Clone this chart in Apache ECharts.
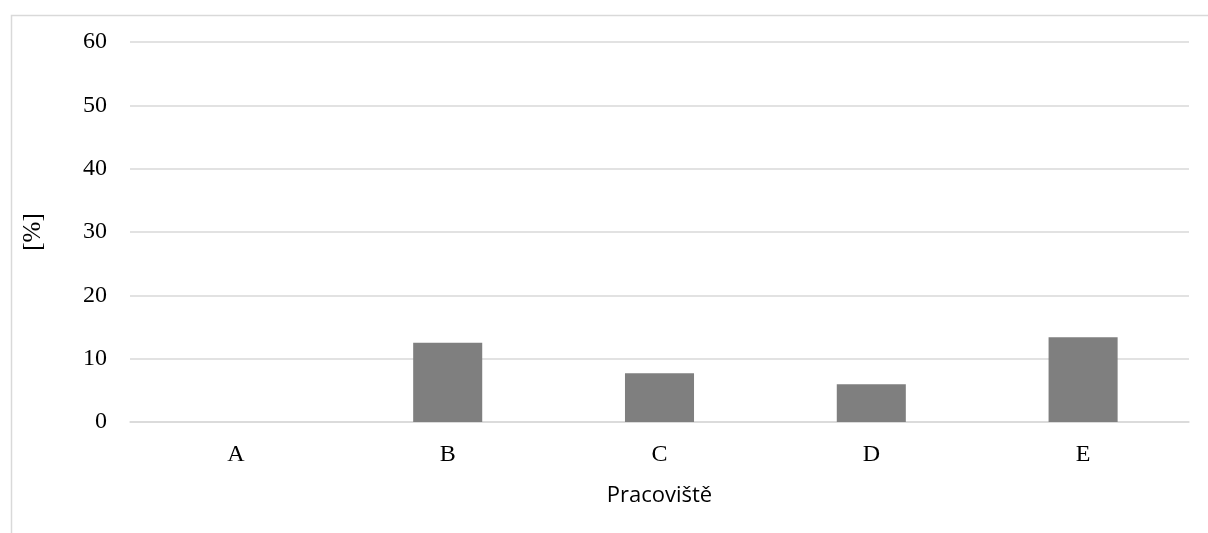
<!DOCTYPE html>
<html><head><meta charset="utf-8">
<script src="https://cdn.jsdelivr.net/npm/echarts@6/dist/echarts.min.js"></script>
<style>html,body{margin:0;padding:0;background:#fff}#c{width:1208px;height:533px}</style>
</head><body><div id="c"></div>
<script>
const categories = ['A', 'B', 'C', 'D', 'E'];
const values = [0, 12.5, 7.7, 5.95, 13.4];
const yTicks = { min: 0, max: 60, interval: 10 };
const xName = 'Pracoviště';
const yName = '[%]';

const serif = "'Liberation Serif', 'Times New Roman', serif";
const chart = echarts.init(document.getElementById('c'), null, { renderer: 'canvas' });
chart.setOption({
  animation: false,
  backgroundColor: '#fff',
  graphic: [{
    type: 'rect', left: 9, top: 13, z: 0,
    shape: { width: 1300, height: 600 },
    style: { fill: 'none', stroke: '#d9d9d9', lineWidth: 1.5 }
  }],
  grid: { left: 130, right: 19, top: 42, bottom: 111, containLabel: false },
  xAxis: {
    type: 'category', data: categories,
    axisLine: { show: true, lineStyle: { color: '#d9d9d9', width: 1.5 } },
    axisTick: { show: false },
    axisLabel: { fontFamily: serif, fontSize: 24, color: '#000', margin: 21 },
    name: xName, nameLocation: 'middle', nameGap: 63,
    nameTextStyle: { fontFamily: 'Open Sans', fontSize: 22, color: '#000' }
  },
  yAxis: {
    type: 'value', min: yTicks.min, max: yTicks.max, interval: yTicks.interval,
    axisLine: { show: false }, axisTick: { show: false },
    splitLine: { lineStyle: { color: '#d9d9d9', width: 1.5 } },
    axisLabel: { fontFamily: serif, fontSize: 24, color: '#000', margin: 23 },
    name: yName, nameLocation: 'middle', nameGap: 84, nameRotate: 90,
    nameTextStyle: { fontFamily: serif, fontSize: 25, color: '#000' }
  },
  series: [{
    type: 'bar', data: values, barWidth: '32.6%',
    itemStyle: { color: '#7f7f7f' }
  }]
});
</script></body></html>
